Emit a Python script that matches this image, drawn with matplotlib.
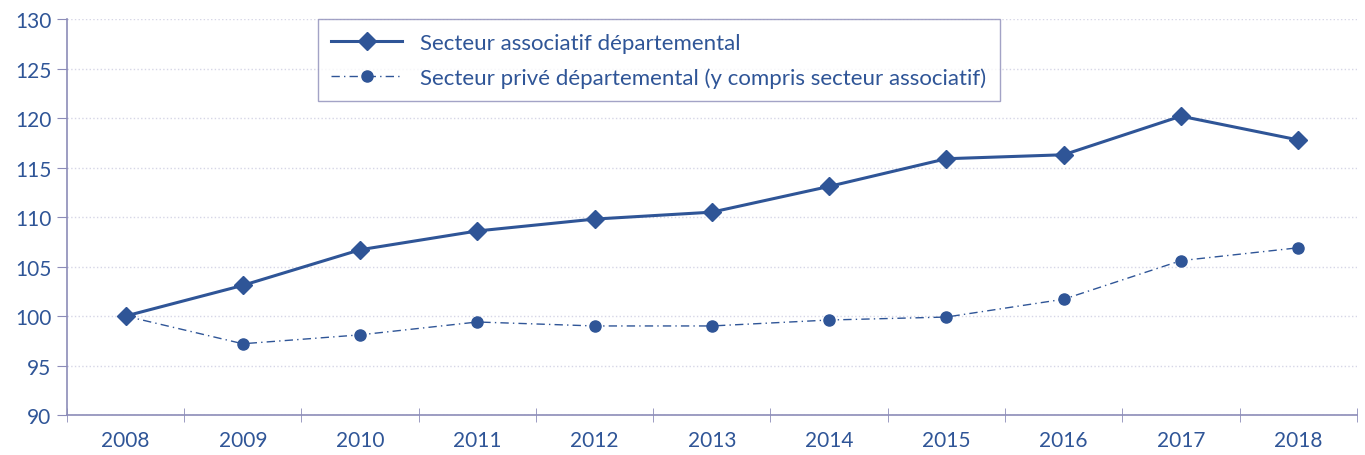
import matplotlib.pyplot as plt
from matplotlib.ticker import FixedLocator

years = ["2008", "2009", "2010", "2011", "2012", "2013", "2014", "2015", "2016", "2017", "2018"]
associatif = [100, 103.1, 106.7, 108.6, 109.8, 110.5, 113.1, 115.9, 116.3, 120.2, 117.8]
prive = [100, 97.2, 98.1, 99.4, 99.0, 99.0, 99.6, 99.9, 101.7, 105.6, 106.9]
y_ticks = [90, 95, 100, 105, 110, 115, 120, 125, 130]

BLUE = "#2F5597"
AXIS = "#8C8CB8"
GRID = "#D6D6E6"

plt.rcParams["font.family"] = ["Lato", "DejaVu Sans"]

fig = plt.figure(figsize=(13.65, 4.56), dpi=100)
ax = fig.add_axes([0.049, 0.0877, 0.945, 0.868])

x = list(range(len(years)))
ax.plot(x, associatif, color=BLUE, lw=2.2, marker="D", ms=9,
        label="Secteur associatif départemental", zorder=3)
ax.plot(x, prive, color=BLUE, lw=1.0, ls=(0, (6, 3, 1, 3)), marker="o", ms=8,
        label="Secteur privé départemental (y compris secteur associatif)", zorder=3)

ax.set_xlim(-0.5, len(years) - 0.5)
ax.set_ylim(90, 130)
ax.set_yticks(y_ticks)
ax.set_xticks(x)
ax.set_xticklabels(years)
ax.xaxis.set_minor_locator(FixedLocator([i - 0.5 for i in range(len(years) + 1)]))
ax.tick_params(axis="x", which="major", length=0, pad=11, labelsize=15, labelcolor=BLUE)
ax.tick_params(axis="x", which="minor", length=10, direction="inout", color=AXIS)
ax.tick_params(axis="y", which="major", length=7, direction="out", color=AXIS,
               labelsize=15, labelcolor=BLUE, pad=4)

for s in ["top", "right"]:
    ax.spines[s].set_visible(False)
for s in ["left", "bottom"]:
    ax.spines[s].set_color(AXIS)
    ax.spines[s].set_linewidth(1.2)

ax.grid(axis="y", color=GRID, ls=":", lw=1.0, zorder=0)

leg = ax.legend(loc="upper left", bbox_to_anchor=(0.1946, 1.0), borderaxespad=0,
                fontsize=16, frameon=True, fancybox=False, handlelength=3.2,
                labelcolor=BLUE, borderpad=0.6, labelspacing=0.65)
leg.get_frame().set_edgecolor(AXIS)
leg.get_frame().set_linewidth(1.0)

fig.savefig("out.png", dpi=100)
